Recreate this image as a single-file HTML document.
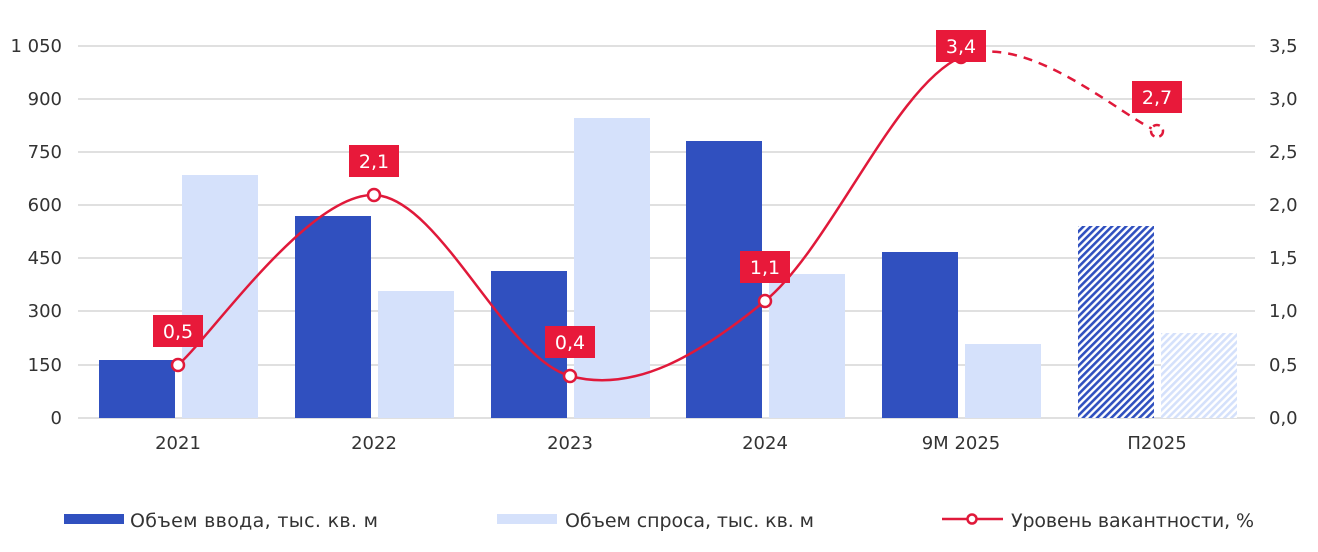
<!DOCTYPE html>
<html><head><meta charset="utf-8"><style>
html,body{margin:0;padding:0;background:#fff;}
svg text{font-family:"DejaVu Sans","Liberation Sans",sans-serif;fill:#333;}
svg text.w{fill:#fff;}
</style></head><body>
<svg width="1318" height="547" viewBox="0 0 1318 547" xmlns="http://www.w3.org/2000/svg">
<defs>
<pattern id="hd" width="5" height="5" patternUnits="userSpaceOnUse" patternTransform="rotate(45)">
<rect width="5" height="5" fill="#fff"/><rect width="2.6" height="5" fill="#3050bf"/></pattern>
<pattern id="hl" width="5" height="5" patternUnits="userSpaceOnUse" patternTransform="rotate(45)">
<rect width="5" height="5" fill="#fff"/><rect width="2.6" height="5" fill="#d5e1fb"/></pattern>
</defs>
<g stroke="#e0e0e0" stroke-width="2">
<line x1="78" x2="1255" y1="46" y2="46"/><line x1="78" x2="1255" y1="99" y2="99"/>
<line x1="78" x2="1255" y1="152" y2="152"/><line x1="78" x2="1255" y1="205" y2="205"/>
<line x1="78" x2="1255" y1="258" y2="258"/><line x1="78" x2="1255" y1="311" y2="311"/>
<line x1="78" x2="1255" y1="365" y2="365"/><line x1="78" x2="1255" y1="418" y2="418"/>
</g>
<g font-size="18" text-anchor="end">
<text x="62" y="52">1 050</text><text x="62" y="105">900</text><text x="62" y="158">750</text>
<text x="62" y="211">600</text><text x="62" y="264">450</text><text x="62" y="317">300</text>
<text x="62" y="371">150</text><text x="62" y="424">0</text>
</g>
<g font-size="18" text-anchor="start">
<text x="1269" y="52">3,5</text><text x="1269" y="105">3,0</text><text x="1269" y="158">2,5</text>
<text x="1269" y="211">2,0</text><text x="1269" y="264">1,5</text><text x="1269" y="317">1,0</text>
<text x="1269" y="371">0,5</text><text x="1269" y="424">0,0</text>
</g>
<g fill="#3050bf">
<rect x="99" y="360" width="76" height="58"/><rect x="295" y="216" width="76" height="202"/>
<rect x="491" y="271" width="76" height="147"/><rect x="686" y="141" width="76" height="277"/>
<rect x="882" y="252" width="76" height="166"/>
</g>
<rect x="1078" y="226" width="76" height="192" fill="url(#hd)"/>
<g fill="#d5e1fb">
<rect x="182" y="175" width="76" height="243"/><rect x="378" y="291" width="76" height="127"/>
<rect x="574" y="118" width="76" height="300"/><rect x="769" y="274" width="76" height="144"/>
<rect x="965" y="344" width="76" height="74"/>
</g>
<rect x="1161" y="333" width="76" height="85" fill="url(#hl)"/>
<g font-size="18" text-anchor="middle">
<text x="178" y="449">2021</text><text x="374" y="449">2022</text><text x="570" y="449">2023</text>
<text x="765" y="449">2024</text><text x="961" y="449">9M 2025</text><text x="1157" y="449">П2025</text>
</g>
<path d="M178,365 C210.7,336.7 308.7,193.2 374,195 C439.3,196.8 504.8,358.3 570,376 C635.2,393.7 699.8,354.2 765,301 C830.2,247.8 895.7,85.3 961,57" fill="none" stroke="#e0193a" stroke-width="2.5"/>
<path d="M961,57 C1026.3,28.7 1124.3,118.7 1157,131" fill="none" stroke="#e0193a" stroke-width="2.5" stroke-dasharray="9,7"/>
<g fill="#fff" stroke="#e0193a" stroke-width="2.5">
<circle cx="178" cy="365" r="6"/><circle cx="374" cy="195" r="6"/><circle cx="570" cy="376" r="6"/>
<circle cx="765" cy="301" r="6"/><circle cx="961" cy="57" r="6"/>
<circle cx="1157" cy="131" r="6" stroke-dasharray="7,5"/>
</g>
<g fill="#e8193a">
<rect x="153" y="315" width="50" height="32"/><rect x="349" y="145" width="50" height="32"/>
<rect x="545" y="326" width="50" height="32"/><rect x="740" y="251" width="50" height="32"/>
<rect x="936" y="30" width="50" height="32"/><rect x="1132" y="81" width="50" height="32"/>
</g>
<g font-size="19" text-anchor="middle">
<text class="w" x="178" y="338">0,5</text><text class="w" x="374" y="168">2,1</text>
<text class="w" x="570" y="349">0,4</text><text class="w" x="765" y="274">1,1</text>
<text class="w" x="961" y="53">3,4</text><text class="w" x="1157" y="104">2,7</text>
</g>
<rect x="64" y="514" width="60" height="10" fill="#3050bf"/>
<text x="130" y="527" font-size="19" textLength="248">Объем ввода, тыс. кв. м</text>
<rect x="497" y="514" width="60" height="10" fill="#d5e1fb"/>
<text x="565" y="527" font-size="19" textLength="249">Объем спроса, тыс. кв. м</text>
<line x1="942" x2="1003" y1="519" y2="519" stroke="#e0193a" stroke-width="2.5"/>
<circle cx="972" cy="519" r="4.5" fill="#fff" stroke="#e0193a" stroke-width="2.5"/>
<text x="1011" y="527" font-size="19" textLength="243">Уровень вакантности, %</text>
</svg>
</body></html>
